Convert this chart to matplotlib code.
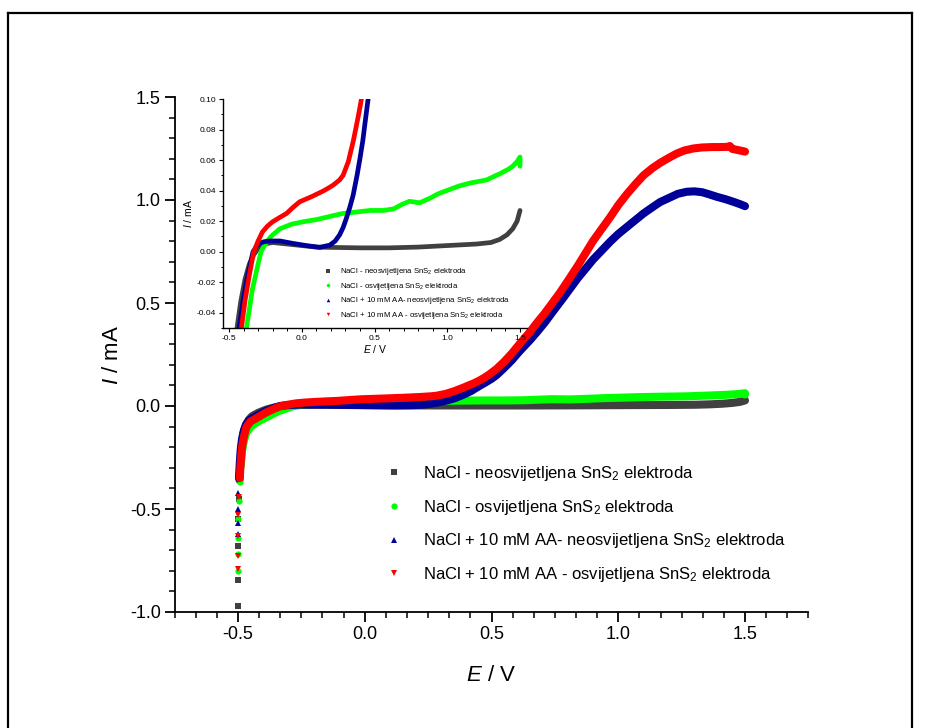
import numpy as np
import matplotlib
matplotlib.use("Agg")
import matplotlib.pyplot as plt
from matplotlib.lines import Line2D
from matplotlib.ticker import MultipleLocator, FormatStrFormatter

plt.rcParams['font.family'] = ['Liberation Sans', 'DejaVu Sans']
plt.rcParams['mathtext.fontset'] = 'custom'
plt.rcParams['mathtext.rm'] = 'Liberation Sans'
plt.rcParams['mathtext.it'] = 'Liberation Sans:italic'
plt.rcParams['axes.unicode_minus'] = False

# ---- data (E / V, I / mA) ----
labels = [
    "NaCl - neosvijetljena SnS$_2$ elektroda",
    "NaCl - osvijetljena SnS$_2$ elektroda",
    "NaCl + 10 mM AA- neosvijetljena SnS$_2$ elektroda",
    "NaCl + 10 mM AA - osvijetljena SnS$_2$ elektroda",
]

E_black = [-0.500, -0.500, -0.499, -0.498, -0.496, -0.494, -0.491, -0.487, -0.482, -0.476,
           -0.468, -0.458, -0.445, -0.42, -0.39, -0.36, -0.33, -0.30, -0.26, -0.20,
           -0.10, 0.00, 0.10, 0.20, 0.40, 0.60, 0.80, 1.00, 1.20, 1.30,
           1.36, 1.41, 1.45, 1.48, 1.50]
I_black = [-0.970, -0.845, -0.680, -0.55, -0.45, -0.36, -0.28, -0.21, -0.16, -0.12,
           -0.09, -0.068, -0.05, -0.033, -0.018, -0.008, -0.002, 0.002, 0.005, 0.006,
           0.005, 0.004, 0.003, 0.0028, 0.0025, 0.0025, 0.003, 0.004, 0.005, 0.006,
           0.008, 0.011, 0.015, 0.020, 0.027]

E_green = [-0.500, -0.500, -0.499, -0.498, -0.496, -0.493, -0.489, -0.484, -0.477, -0.467,
           -0.45, -0.42, -0.38, -0.34, -0.30, -0.28, -0.26, -0.24, -0.22, -0.20,
           -0.15, -0.07, 0.01, 0.10, 0.19, 0.28, 0.38, 0.47, 0.56, 0.63,
           0.69, 0.74, 0.81, 0.88, 0.94, 0.995, 1.08, 1.16, 1.27, 1.36,
           1.42, 1.45, 1.48, 1.50, 1.50]
I_green = [-0.80, -0.72, -0.64, -0.55, -0.46, -0.37, -0.29, -0.22, -0.17, -0.13,
           -0.10, -0.075, -0.05, -0.025, -0.008, 0.0, 0.0035, 0.0065, 0.009, 0.011,
           0.015, 0.018, 0.0196, 0.021, 0.023, 0.025, 0.026, 0.027, 0.027, 0.028,
           0.031, 0.033, 0.032, 0.035, 0.038, 0.040, 0.043, 0.045, 0.047, 0.051,
           0.054, 0.056, 0.059, 0.062, 0.056]

E_blue = [-0.500, -0.500, -0.499, -0.498, -0.496, -0.493, -0.489, -0.484, -0.477, -0.468,
          -0.455, -0.43, -0.40, -0.37, -0.335, -0.31, -0.29, -0.26, -0.22, -0.15,
          -0.06, 0.03, 0.124, 0.193, 0.23, 0.26, 0.285, 0.307, 0.33, 0.353,
          0.38, 0.40, 0.42, 0.433, 0.456, 0.48, 0.50, 0.52, 0.55, 0.58,
          0.61, 0.652, 0.68, 0.71, 0.74, 0.78, 0.81, 0.84, 0.87, 0.90,
          0.935, 0.97, 1.00, 1.035, 1.07, 1.10, 1.135, 1.165, 1.20, 1.235,
          1.27, 1.30, 1.33, 1.36, 1.39, 1.42, 1.45, 1.48, 1.50]
I_blue = [-0.62, -0.57, -0.50, -0.42, -0.35, -0.28, -0.21, -0.16, -0.12, -0.09,
          -0.068, -0.05, -0.03, -0.015, 0.0, 0.0035, 0.0054, 0.0065, 0.007, 0.007,
          0.0054, 0.004, 0.0028, 0.0043, 0.007, 0.011, 0.016, 0.022, 0.029, 0.037,
          0.050, 0.061, 0.073, 0.083, 0.100, 0.117, 0.132, 0.150, 0.185, 0.222,
          0.265, 0.32, 0.36, 0.405, 0.455, 0.52, 0.57, 0.62, 0.665, 0.71,
          0.755, 0.80, 0.835, 0.87, 0.905, 0.935, 0.965, 0.99, 1.01, 1.03,
          1.04, 1.042, 1.038, 1.027, 1.015, 1.005, 0.993, 0.98, 0.97]

E_red = [-0.500, -0.500, -0.499, -0.498, -0.496, -0.493, -0.489, -0.484, -0.477, -0.466,
         -0.45, -0.415, -0.39, -0.36, -0.33, -0.30, -0.27, -0.235, -0.20, -0.15,
         -0.105, -0.06, -0.014, 0.03, 0.067, 0.11, 0.147, 0.18, 0.216, 0.26,
         0.284, 0.30, 0.32, 0.335, 0.353, 0.37, 0.39, 0.41, 0.43, 0.45,
         0.47, 0.49, 0.52, 0.55, 0.58, 0.61, 0.652, 0.68, 0.71, 0.74,
         0.77, 0.80, 0.84, 0.87, 0.90, 0.935, 0.97, 1.00, 1.035, 1.07,
         1.10, 1.135, 1.165, 1.20, 1.23, 1.26, 1.295, 1.33, 1.37, 1.40,
         1.43, 1.44, 1.45, 1.47, 1.50]
I_red = [-0.79, -0.727, -0.63, -0.53, -0.44, -0.35, -0.27, -0.20, -0.15, -0.10,
         -0.075, -0.05, -0.032, -0.015, 0.0, 0.007, 0.013, 0.0168, 0.0196, 0.0225,
         0.025, 0.029, 0.0327, 0.0345, 0.036, 0.038, 0.0397, 0.0415, 0.0436, 0.047,
         0.050, 0.054, 0.059, 0.065, 0.072, 0.080, 0.0895, 0.100, 0.110, 0.122,
         0.136, 0.152, 0.18, 0.215, 0.255, 0.30, 0.36, 0.405, 0.45, 0.50,
         0.55, 0.605, 0.68, 0.74, 0.80, 0.86, 0.92, 0.975, 1.03, 1.08,
         1.12, 1.155, 1.18, 1.205, 1.225, 1.24, 1.25, 1.255, 1.257, 1.257,
         1.258, 1.262, 1.248, 1.243, 1.235]

series = [
    (E_black, I_black, '#404040', 's', 4.0),
    (E_green, I_green, '#00ff00', 'o', 4.5),
    (E_blue, I_blue, '#000099', '^', 5.0),
    (E_red, I_red, '#ff0000', 'v', 5.0),
]

fig = plt.figure(figsize=(9.25, 7.28), dpi=100)

# page frame
fl = dict(color='black', lw=1.6, transform=fig.transFigure, solid_capstyle='projecting')
fig.add_artist(Line2D([8/925, 8/925], [0, 1 - 13/728], **fl))
fig.add_artist(Line2D([8/925, 912/925], [1 - 13/728, 1 - 13/728], **fl))
fig.add_artist(Line2D([912/925, 912/925], [1 - 13/728, 0], **fl))

# ---- main axes ----
ax = fig.add_axes([174.6/925, 1 - 612/728, 633.8/925, 515/728])
for E, I, c, m, ms in series:
    E = np.array(E); I = np.array(I)
    line_mask = I >= -0.36
    ax.plot(E[line_mask], I[line_mask], color=c, lw=5.8, solid_capstyle='round',
            solid_joinstyle='round', zorder=2)
    tail = I < -0.3
    ax.plot(E[tail], I[tail], ls='none', marker=m, color=c, ms=ms, mew=0, zorder=2)

ax.set_xlim(-0.75, 1.75)
ax.set_ylim(-1.0, 1.5)
ax.xaxis.set_major_locator(MultipleLocator(0.5))
ax.xaxis.set_minor_locator(MultipleLocator(0.5/6))
ax.yaxis.set_major_locator(MultipleLocator(0.5))
ax.yaxis.set_minor_locator(MultipleLocator(0.1))
ax.spines['top'].set_visible(False)
ax.spines['right'].set_visible(False)
for s in ('left', 'bottom'):
    ax.spines[s].set_linewidth(1.3)
ax.tick_params(which='major', direction='out', length=7, width=1.3, labelsize=13, pad=3)
ax.tick_params(which='minor', direction='out', length=4, width=1.1)
ax.set_xlabel("$\\mathit{E}$ / V", fontsize=16, labelpad=16)
ax.set_ylabel("$\\mathit{I}$ / mA", fontsize=16, labelpad=5)

handles = [Line2D([], [], ls='none', marker=m, color=c, ms=4.5, mew=0) for _, _, c, m, _ in series]
ax.legend(handles, labels, loc='lower left', bbox_to_anchor=(0.31, 0.025), frameon=False,
          fontsize=12, handletextpad=1.2, labelspacing=0.88, handlelength=1.0)

# ---- inset axes ----
axi = fig.add_axes([223.2/925, 1 - 328/728, 304.1/925, 229/728])
for E, I, c, m, ms in series:
    axi.plot(E, I, color=c, lw=3.4, solid_capstyle='round', solid_joinstyle='round')
axi.set_xlim(-0.54, 1.55)
axi.set_ylim(-0.05, 0.10)
axi.xaxis.set_major_locator(MultipleLocator(0.5))
axi.xaxis.set_minor_locator(MultipleLocator(0.1))
axi.yaxis.set_major_locator(MultipleLocator(0.02))
axi.yaxis.set_minor_locator(MultipleLocator(0.01))
axi.yaxis.set_major_formatter(FormatStrFormatter('%.2f'))
axi.spines['top'].set_visible(False)
axi.spines['right'].set_visible(False)
for s in ('left', 'bottom'):
    axi.spines[s].set_linewidth(1.0)
axi.tick_params(which='major', direction='out', length=3, width=0.8, labelsize=6, pad=2)
axi.tick_params(which='minor', direction='out', length=1.8, width=0.7)
axi.set_xlabel("$\\mathit{E}$ / V", fontsize=7.5, labelpad=1)
axi.set_ylabel("$\\mathit{I}$ / mA", fontsize=7.5, labelpad=2)
hi = [Line2D([], [], ls='none', marker=m, color=c, ms=2.5, mew=0) for _, _, c, m, _ in series]
axi.legend(hi, labels, loc='lower left', bbox_to_anchor=(0.31, 0.0), frameon=False,
           fontsize=5.6, handletextpad=1.0, labelspacing=0.45, handlelength=1.0)
axi.patch.set_alpha(0.0)

fig.savefig("out.png", dpi=100)
